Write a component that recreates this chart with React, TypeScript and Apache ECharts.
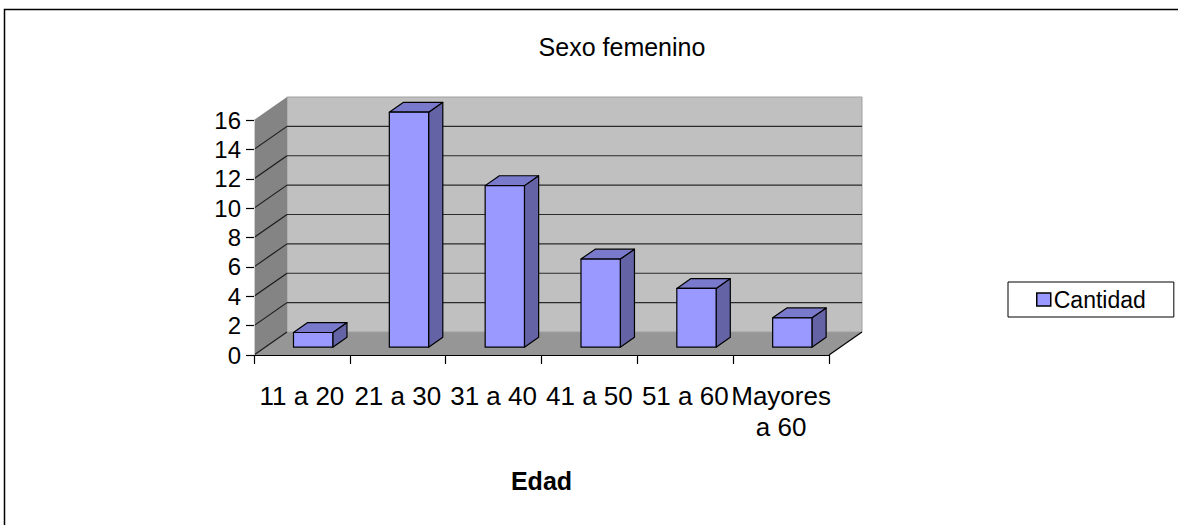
import React, { useEffect, useRef } from "react";
import * as echarts from "echarts";

const CATEGORIES = ["11 a 20", "21 a 30", "31 a 40", "41 a 50", "51 a 60", "Mayores a 60"];
const CANTIDAD = [1, 16, 11, 6, 4, 2];
const Y_TICKS = [0, 2, 4, 6, 8, 10, 12, 14, 16];
const SERIES_NAME = "Cantidad";
const TITLE = "Sexo femenino";
const X_NAME = "Edad";

const FONT = "'Liberation Sans', Arial, sans-serif";
const DX = 33; // wall depth offset (px)
const DY = -23;
const BAR_FRONT = 0.34;
const BAR_BACK = 0.77;
const BAR_W = 0.41;

export default function App() {
  const ref = useRef<HTMLDivElement>(null);
  useEffect(() => {
    if (!ref.current) return;
    const chart = echarts.init(ref.current, null, { renderer: "svg" });
    const yMax = Y_TICKS[Y_TICKS.length - 1];

    const wallsRender = (params: any, api: any) => {
      const band = api.size([1, 0])[0];
      const p0 = api.coord([0, 0]);
      const p1 = api.coord([CATEGORIES.length - 1, yMax]);
      const x0 = p0[0] - band / 2;
      const y0 = p0[1];
      const x1 = p1[0] + band / 2;
      const yT = p1[1];
      const children: any[] = [];
      children.push({
        type: "polygon",
        shape: { points: [[x0, y0], [x1, y0], [x1 + DX, y0 + DY], [x0 + DX, y0 + DY]] },
        style: { fill: "#969696", stroke: null },
      });
      children.push({
        type: "polygon",
        shape: { points: [[x0 + DX, y0 + DY], [x1 + DX, y0 + DY], [x1 + DX, yT + DY], [x0 + DX, yT + DY]] },
        style: { fill: "#c0c0c0", stroke: "#a0a0a0", lineWidth: 1 },
      });
      children.push({
        type: "polygon",
        shape: { points: [[x0, y0], [x0 + DX, y0 + DY], [x0 + DX, yT + DY], [x0, yT]] },
        style: { fill: "#848484", stroke: null },
      });
      Y_TICKS.forEach((v) => {
        const y = api.coord([0, v])[1];
        if (v !== 0 && v !== yMax) {
          children.push({
            type: "line",
            shape: { x1: x0 + DX, y1: y + DY, x2: x1 + DX, y2: y + DY },
            style: { stroke: "#2a2a2a", lineWidth: 1.2 },
          });
        }
        if (v !== yMax) {
          children.push({
            type: "line",
            shape: { x1: x0, y1: y, x2: x0 + DX, y2: y + DY },
            style: { stroke: "#1a1a1a", lineWidth: 1.2 },
          });
        }
      });
      children.push({
        type: "line",
        shape: { x1: x1, y1: y0, x2: x1 + DX, y2: y0 + DY },
        style: { stroke: "#000", lineWidth: 1.2 },
      });
      return { type: "group", children };
    };

    const barRender = (params: any, api: any) => {
      const idx = api.value(0);
      const val = api.value(1);
      const band = api.size([1, 0])[0];
      const base = api.coord([idx, 0]);
      const topP = api.coord([idx, val]);
      const w = band * BAR_W;
      const fx = BAR_FRONT * DX, fy = BAR_FRONT * DY;
      const ddx = (BAR_BACK - BAR_FRONT) * DX, ddy = (BAR_BACK - BAR_FRONT) * DY;
      const l = base[0] - w / 2 + fx;
      const r = l + w;
      const b = base[1] + fy;
      const t = topP[1] + fy;
      const edge = { stroke: "#000", lineWidth: 1.2, lineJoin: "round" };
      return {
        type: "group",
        children: [
          {
            type: "polygon",
            shape: { points: [[r, t], [r + ddx, t + ddy], [r + ddx, b + ddy], [r, b]] },
            style: { fill: "#6363a6", ...edge },
          },
          {
            type: "polygon",
            shape: { points: [[l, t], [l + ddx, t + ddy], [r + ddx, t + ddy], [r, t]] },
            style: { fill: "#7a7acc", ...edge },
          },
          {
            type: "polygon",
            shape: { points: [[l, t], [r, t], [r, b], [l, b]] },
            style: { fill: "#9999ff", ...edge },
          },
        ],
      };
    };

    chart.setOption({
      animation: false,
      backgroundColor: "#ffffff",
      textStyle: { fontFamily: FONT, color: "#000" },
      title: {
        text: TITLE,
        left: 617,
        top: 29,
        textAlign: "center",
        textStyle: { fontFamily: FONT, fontSize: 25, fontWeight: "normal", color: "#000" },
      },
      legend: {
        data: [SERIES_NAME],
        left: 1008,
        top: 282,
        orient: "vertical",
        borderColor: "#000",
        borderWidth: 1,
        borderRadius: 0,
        padding: [6, 28, 6, 28],
        itemWidth: 14,
        itemHeight: 13,
        icon: "rect",
        itemStyle: { color: "#9999ff", borderColor: "#000", borderWidth: 1.5 },
        textStyle: { fontFamily: FONT, fontSize: 23, color: "#000", padding: [0, 0, 0, -2] },
      },
      grid: { left: 254, right: 349, top: 120, bottom: 170 },
      xAxis: {
        type: "category",
        data: CATEGORIES,
        z: 5,
        name: X_NAME,
        nameLocation: "middle",
        nameGap: 113,
        nameTextStyle: { fontFamily: FONT, fontSize: 25, fontWeight: "bold", color: "#000" },
        axisLine: { lineStyle: { color: "#000", width: 1.2 } },
        axisTick: { show: true, length: 9, lineStyle: { color: "#000", width: 1.2 } },
        axisLabel: {
          fontFamily: FONT,
          fontSize: 26,
          color: "#000",
          margin: 25,
          lineHeight: 31,
          interval: 0,
          formatter: (v: string) => (v === "Mayores a 60" ? "Mayores\na 60" : v),
        },
        splitLine: { show: false },
      },
      yAxis: {
        type: "value",
        min: 0,
        max: yMax,
        interval: 2,
        z: 5,
        axisLine: { show: true, lineStyle: { color: "#d0d0d0", width: 1 } },
        axisTick: { show: true, length: 8, lineStyle: { color: "#000", width: 1.2 } },
        axisLabel: { fontFamily: FONT, fontSize: 24, color: "#000", margin: 13 },
        splitLine: { show: false },
      },
      graphic: [
        {
          type: "rect",
          shape: { x: 4.5, y: 9.5, width: 1300, height: 700 },
          style: { fill: "none", stroke: "#000", lineWidth: 1.5 },
          silent: true,
        },
      ],
      series: [
        {
          type: "custom",
          name: "walls",
          renderItem: wallsRender,
          data: [[0, 0]],
          silent: true,
          z: 1,
        },
        {
          type: "custom",
          name: SERIES_NAME,
          renderItem: barRender,
          itemStyle: { color: "#9999ff" },
          encode: { x: 0, y: 1 },
          data: CANTIDAD.map((v, i) => [i, v]),
          z: 2,
        },
      ],
    });
    return () => chart.dispose();
  }, []);
  return (
    <div
      ref={ref}
      style={{ position: "absolute", left: 0, top: 0, width: 1178, height: 525 }}
    />
  );
}
